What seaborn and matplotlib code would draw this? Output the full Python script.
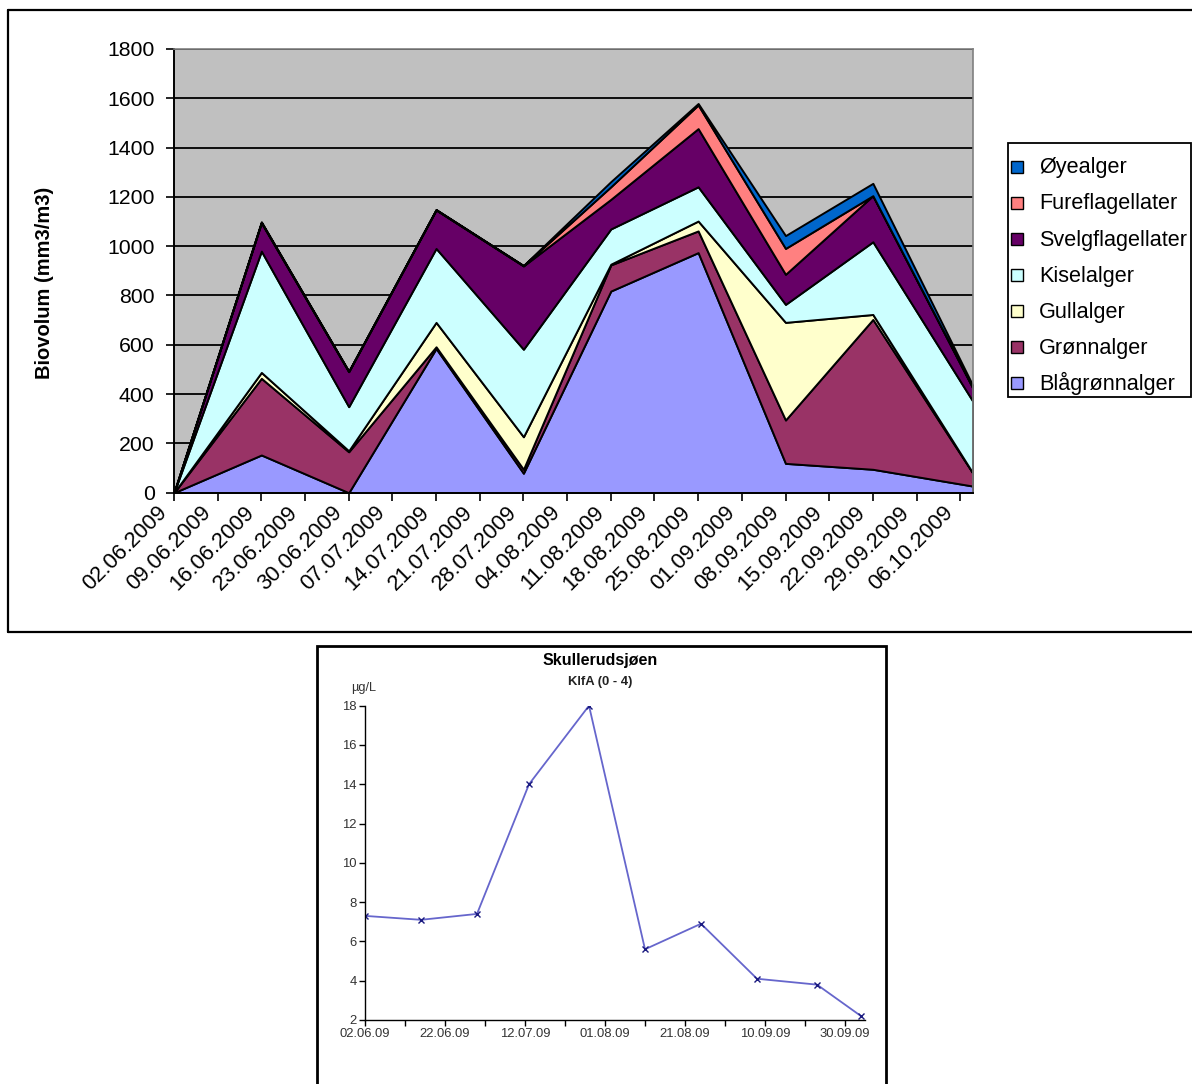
import numpy as np
import pandas as pd
import matplotlib
matplotlib.use("Agg")
import matplotlib.pyplot as plt
import matplotlib.dates as mdates
import matplotlib.transforms as mtransforms
from matplotlib.patches import Rectangle
from matplotlib.lines import Line2D
import seaborn as sns

# ---- Biovolum av algegrupper (mm3/m3) ----
prove_datoer = ["02.06.2009", "16.06.2009", "30.06.2009", "14.07.2009", "28.07.2009",
                "11.08.2009", "25.08.2009", "08.09.2009", "22.09.2009", "08.10.2009"]
blagronnalger = [0, 153, 0, 585, 79, 818, 974, 119, 95, 27]
gronnalger = [0, 311, 166, 7, 16, 106, 88, 176, 608, 53]
gullalger = [0, 24, 4, 99, 132, 3, 40, 396, 20, 1]
kiselalger = [0, 492, 179, 300, 355, 143, 139, 73, 295, 291]
svelgflagellater = [0, 115, 142, 156, 338, 120, 236, 122, 187, 53]
fureflagellater = [0, 2, 1, 1, 1, 51, 96, 105, 0, 3]
oyealger = [0, 2, 1, 1, 1, 21, 6, 52, 50, 8]

gruppe_navn = ["Blågrønnalger", "Grønnalger", "Gullalger", "Kiselalger",
               "Svelgflagellater", "Fureflagellater", "Øyealger"]
gruppe_farger = ["#9999FF", "#993366", "#FFFFCC", "#CCFFFF",
                 "#660066", "#FF8080", "#0066CC"]
bio_yticks = [0, 200, 400, 600, 800, 1000, 1200, 1400, 1600, 1800]

# ---- Klorofyll a, Skullerudsjøen ----
klfa_datoer = ["02.06.09", "16.06.09", "30.06.09", "13.07.09", "28.07.09",
               "11.08.09", "25.08.09", "08.09.09", "23.09.09", "04.10.09"]
klfa_verdier = [7.3, 7.1, 7.4, 14.0, 18.0, 5.6, 6.9, 4.1, 3.8, 2.2]
klfa_yticks = [2, 4, 6, 8, 10, 12, 14, 16, 18]

sns.set_theme(style="white")
plt.rcParams["font.family"] = ["Liberation Sans", "DejaVu Sans"]
plt.rcParams["text.color"] = "black"
plt.rcParams["axes.labelcolor"] = "black"
plt.rcParams["xtick.color"] = "black"
plt.rcParams["ytick.color"] = "black"

W, H = 1192, 1084
fig = plt.figure(figsize=(W / 100, H / 100), dpi=100)
fig.patch.set_facecolor("white")


def fig_rect(x0, y0, x1, y1):
    """Pixel box (top-left origin) -> figure fraction rectangle."""
    return [x0 / W, 1 - y1 / H, (x1 - x0) / W, (y1 - y0) / H]


def fx(x):
    return x / W


def fy(y):
    return 1 - y / H


# ---------------- Biovolum: stacked area ----------------
bio = pd.DataFrame({
    "dato": pd.to_datetime(prove_datoer, format="%d.%m.%Y"),
    gruppe_navn[0]: blagronnalger,
    gruppe_navn[1]: gronnalger,
    gruppe_navn[2]: gullalger,
    gruppe_navn[3]: kiselalger,
    gruppe_navn[4]: svelgflagellater,
    gruppe_navn[5]: fureflagellater,
    gruppe_navn[6]: oyealger,
})

ax = fig.add_axes(fig_rect(174, 49, 972.7, 492.7))
ax.set_facecolor("#C0C0C0")
ax.set_axisbelow(True)
ax.yaxis.grid(True, color="black", linewidth=1.3)
ax.xaxis.grid(False)

xnum = mdates.date2num(bio["dato"])
ax.stackplot(xnum, *[bio[n].values for n in gruppe_navn], colors=gruppe_farger,
             edgecolor="black", linewidth=1.4, zorder=2)

ax.set_ylim(0, 1800)
ax.set_yticks(bio_yticks)
ax.set_yticklabels([str(v) for v in bio_yticks])
ax.set_xlim(xnum[0], xnum[-1])

uke_ticks = pd.date_range("2009-06-02", "2009-10-06", freq="7D")
ax.set_xticks(mdates.date2num(uke_ticks))
ax.set_xticklabels([d.strftime("%d.%m.%Y") for d in uke_ticks], rotation=45,
                   ha="right", va="center", rotation_mode="anchor",
                   fontsize=15.8)
ax.tick_params(axis="both", which="major", direction="out", length=6, width=1.2,
               color="black", labelcolor="black", left=True, bottom=True)
ax.tick_params(axis="y", pad=8, labelsize=15.3)
ax.tick_params(axis="x", pad=4)
# rotated date labels sit a little left of and below their ticks
shift = mtransforms.ScaledTranslation(-10 / 100, -3 / 100, fig.dpi_scale_trans)
for lbl in ax.get_xticklabels():
    lbl.set_transform(lbl.get_transform() + shift)
for side in ["left", "bottom"]:
    ax.spines[side].set_color("black")
    ax.spines[side].set_linewidth(1.4)
for side in ["top", "right"]:
    ax.spines[side].set_color("#808080")
    ax.spines[side].set_linewidth(1.2)
ax.set_xlabel("")
ax.set_ylabel("")

fig.text(fx(45), fy(283), "Biovolum (mm3/m3)", rotation=90, fontsize=14.5,
         fontweight="bold", ha="center", va="center", color="black")

# legend box, drawn entry by entry (top entry = last group)
fig.add_artist(Rectangle((fx(1008), fy(397)), fx(1191) - fx(1008), fy(143) - fy(397),
                         transform=fig.transFigure, facecolor="white",
                         edgecolor="black", linewidth=1.3))
for i, (navn, farge) in enumerate(zip(gruppe_navn[::-1], gruppe_farger[::-1])):
    yc = 166.7 + i * 36.1
    fig.add_artist(Rectangle((fx(1010.5), fy(yc + 6)), fx(12), fy(0) - fy(12),
                             transform=fig.transFigure, facecolor=farge,
                             edgecolor="black", linewidth=1.0))
    fig.text(fx(1039), fy(yc + 6.7), navn, fontsize=15.6, ha="left",
             va="baseline", color="black")

# outer frame of the biovolume chart
fig.add_artist(Line2D([fx(8), fx(8)], [fy(10), fy(632)], color="black", lw=1.6))
fig.add_artist(Line2D([fx(8), 1.0], [fy(10), fy(10)], color="black", lw=1.6))
fig.add_artist(Line2D([fx(8), 1.0], [fy(632), fy(632)], color="black", lw=1.6))

# ---------------- Klorofyll a: line chart ----------------
klfa = pd.DataFrame({
    "dato": pd.to_datetime(klfa_datoer, format="%d.%m.%y"),
    "klfa": klfa_verdier,
})

fig.add_artist(Rectangle((fx(317), fy(1100)), fx(886) - fx(317), fy(646) - fy(1100),
                         transform=fig.transFigure, fill=False, edgecolor="black",
                         linewidth=2.0))

ax2 = fig.add_axes(fig_rect(365, 705.7, 865, 1020))
ax2.set_facecolor("white")
sns.lineplot(data=klfa, x="dato", y="klfa", ax=ax2, color="#6666CC", linewidth=1.3,
             marker="x", markersize=4.5, markeredgecolor="#1A1A80",
             markeredgewidth=1.0)
ax2.set_ylim(2, 18)
ax2.set_yticks(klfa_yticks)
ax2.set_yticklabels([str(v) for v in klfa_yticks])
start = pd.Timestamp("2009-06-02")
ax2.set_xlim(mdates.date2num(start), mdates.date2num(pd.Timestamp("2009-10-05")))
major = pd.date_range(start, periods=7, freq="20D")
minor = pd.date_range(start + pd.Timedelta(days=10), periods=6, freq="20D")
ax2.set_xticks(mdates.date2num(major))
ax2.set_xticklabels([d.strftime("%d.%m.%y") for d in major])
ax2.set_xticks(mdates.date2num(minor), minor=True)
ax2.tick_params(axis="both", which="both", direction="out", length=4, width=1.0,
                color="black", labelsize=9.4, labelcolor="#333333", pad=2,
                left=True, bottom=True)
for side in ["top", "right"]:
    ax2.spines[side].set_visible(False)
for side in ["left", "bottom"]:
    ax2.spines[side].set_color("black")
    ax2.spines[side].set_linewidth(1.0)
ax2.set_xlabel("")
ax2.set_ylabel("")
ax2.grid(False)

fig.text(fx(600), fy(660), "Skullerudsjøen", fontsize=11.5, fontweight="bold",
         ha="center", va="center", color="black")
fig.text(fx(600), fy(681.5), "KlfA (0 - 4)", fontsize=9.4, fontweight="bold",
         ha="center", va="center", color="#222222")
fig.text(fx(364), fy(688), "µg/L", fontsize=9.2, ha="center", va="center",
         color="#333333")

fig.savefig("out.png", dpi=100, facecolor="white")
